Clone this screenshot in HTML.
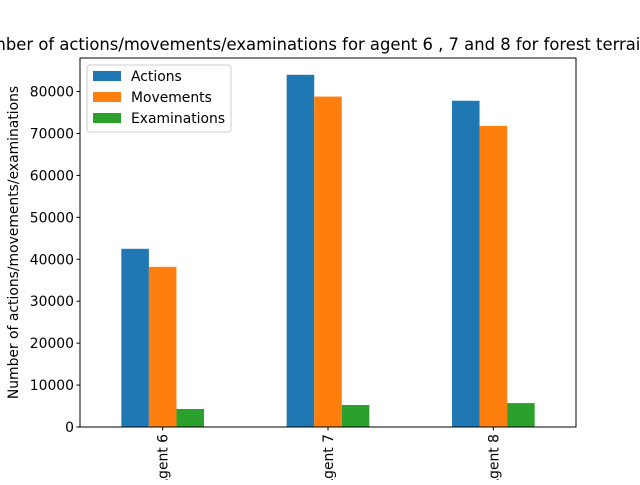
<!DOCTYPE html>
<html><head><meta charset="utf-8"><style>body{margin:0;background:#fff}svg text{font-family:"DejaVu Sans","Liberation Sans",sans-serif}</style></head>
<body>
<svg id="c" width="640" height="480" xmlns="http://www.w3.org/2000/svg"></svg>
<script>
const categories=["Agent 6","Agent 7","Agent 8"];
const seriesNames=["Actions","Movements","Examinations"];
const actions=[42500,84000,77800];
const movements=[38200,78800,71800];
const examinations=[4300,5250,5700];
const yTicks=[0,10000,20000,30000,40000,50000,60000,70000,80000];
const colors=["#1f77b4","#ff7f0e","#2ca02c"];
const L=80,R=576,T=58,B=427;
const ymax=88000;
const y=v=>B-(v/ymax)*(B-T);
const step=(R-L)/categories.length;
const xc=i=>L+step*(i+0.5);
const bw=step*0.5/3;
const s=document.getElementById('c');
const NS="http://www.w3.org/2000/svg";
function el(t,a,txt){const e=document.createElementNS(NS,t);for(const k in a)e.setAttribute(k,a[k]);if(txt!==undefined)e.textContent=txt;s.appendChild(e);return e;}
const data=[actions,movements,examinations];
data.forEach((ser,si)=>ser.forEach((v,i)=>{
 const r=el('rect',{x:xc(i)-1.5*bw+si*bw,y:y(v),width:bw,height:B-y(v),fill:colors[si]});
 
 
}));
const ax=el('rect',{x:L,y:T,width:R-L,height:B-T,fill:'none',stroke:'#000','stroke-width':1});


yTicks.forEach(v=>{
 el('line',{x1:L-3.5,x2:L,y1:y(v),y2:y(v),stroke:'#000'});
 const t=el('text',{x:L-6,y:y(v)+5,'font-size':13.9,'text-anchor':'end'},String(v));
 
 
});
categories.forEach((c,i)=>{
 el('line',{x1:xc(i),x2:xc(i),y1:B,y2:B+3.5,stroke:'#000'});
 const t=el('text',{x:0,y:0,'font-size':13.9,'text-anchor':'end',transform:`translate(${xc(i)+5},${B+7}) rotate(-90)`},c);
 
 
});
const yt=el('text',{x:0,y:0,'font-size':13.9,'text-anchor':'middle',transform:`translate(18,${(T+B)/2}) rotate(-90)`},'Number of actions/movements/examinations');


const ti=el('text',{x:309,y:50,'font-size':16.4,'text-anchor':'middle'},'Number of actions/movements/examinations for agent 6 , 7 and 8 for forest terrain');


const lg=el('rect',{x:87,y:65,width:144,height:67,fill:'#fff',stroke:'#ccc',rx:3});


seriesNames.forEach((n,i)=>{
 const yy=71+i*21;
 el('rect',{x:93,y:yy,width:28,height:10,fill:colors[i]});
 const t=el('text',{x:131,y:yy+10,'font-size':13.9},n);
 
 
});
</script>
</body></html>
